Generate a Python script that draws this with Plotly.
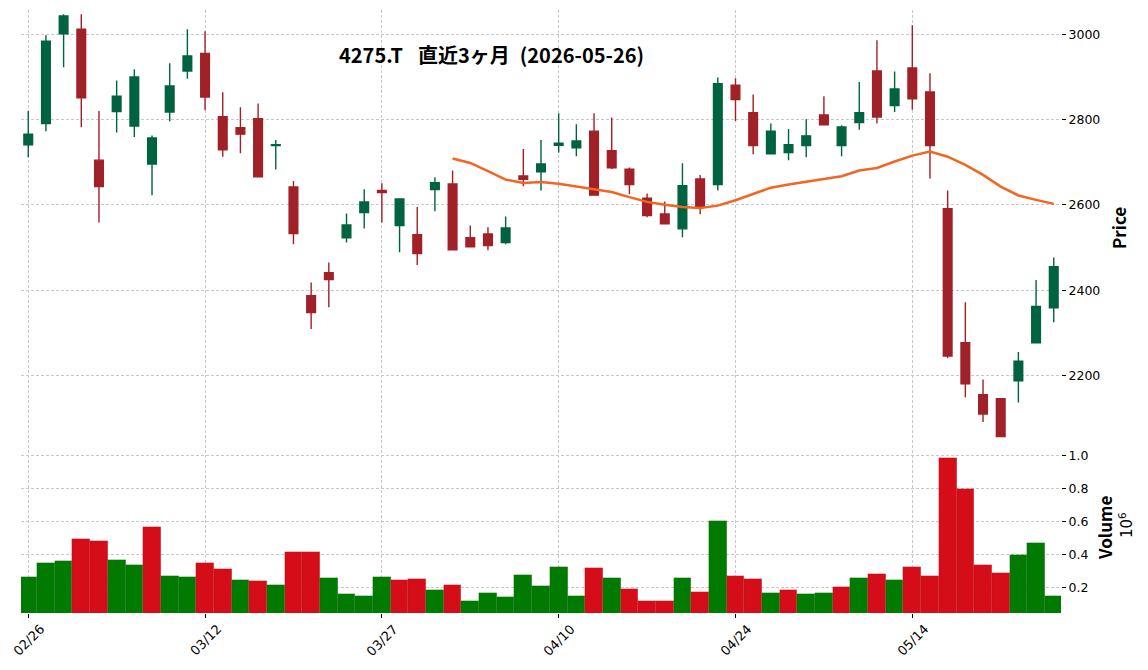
import plotly.graph_objects as go
import pandas as pd

dates = ["02/26", "02/27", "03/02", "03/03", "03/04", "03/05", "03/06", "03/09", "03/10", "03/11",
         "03/12", "03/13", "03/16", "03/17", "03/18", "03/19", "03/23", "03/24", "03/25", "03/26",
         "03/27", "03/30", "03/31", "04/01", "04/02", "04/03", "04/06", "04/07", "04/08", "04/09",
         "04/10", "04/13", "04/14", "04/15", "04/16", "04/17", "04/20", "04/21", "04/22", "04/23",
         "04/24", "04/27", "04/28", "04/30", "05/01", "05/07", "05/08", "05/11", "05/12", "05/13",
         "05/14", "05/15", "05/18", "05/19", "05/20", "05/21", "05/22", "05/25", "05/26"]

opens = [2741, 2791, 3001, 3012, 2705, 2819, 2785, 2696, 2818, 2914,
         2955, 2807, 2781, 2802, 2739, 2642, 2387, 2441, 2523, 2582,
         2634, 2552, 2530, 2636, 2649, 2523, 2532, 2512, 2668, 2678,
         2740, 2734, 2773, 2727, 2684, 2616, 2579, 2544, 2661, 2648,
         2881, 2816, 2720, 2723, 2739, 2811, 2739, 2793, 2914, 2833,
         2921, 2865, 2591, 2277, 2155, 2146, 2188, 2277, 2359]
highs = [2820, 2998, 3047, 3047, 2820, 2892, 2918, 2763, 2932, 3012,
         3007, 2864, 2829, 2838, 2752, 2656, 2418, 2465, 2580, 2637,
         2651, 2615, 2595, 2665, 2681, 2552, 2548, 2573, 2731, 2752,
         2815, 2789, 2815, 2805, 2688, 2627, 2608, 2698, 2670, 2899,
         2897, 2859, 2791, 2778, 2801, 2855, 2787, 2888, 2986, 2913,
         3021, 2909, 2634, 2372, 2191, 2146, 2255, 2424, 2477]
lows = [2712, 2773, 2923, 2782, 2559, 2770, 2759, 2623, 2796, 2896,
        2822, 2713, 2721, 2665, 2683, 2508, 2309, 2360, 2512, 2545,
        2559, 2489, 2459, 2585, 2495, 2501, 2494, 2508, 2644, 2634,
        2723, 2714, 2622, 2684, 2625, 2571, 2555, 2524, 2578, 2634,
        2797, 2719, 2718, 2705, 2712, 2787, 2714, 2776, 2791, 2818,
        2823, 2662, 2241, 2149, 2091, 2056, 2137, 2276, 2325]
closes = [2766, 2984, 3043, 2851, 2643, 2855, 2900, 2757, 2879, 2949,
          2853, 2729, 2766, 2666, 2741, 2533, 2348, 2425, 2553, 2607,
          2629, 2614, 2486, 2652, 2495, 2502, 2505, 2546, 2660, 2696,
          2745, 2750, 2623, 2687, 2648, 2575, 2556, 2645, 2596, 2884,
          2847, 2739, 2773, 2741, 2762, 2788, 2783, 2816, 2806, 2872,
          2849, 2739, 2246, 2181, 2110, 2057, 2234, 2362, 2455]
volumes = [263000, 347000, 360000, 493000, 481000, 366000, 335000, 566000, 269000, 263000,
           347000, 311000, 244000, 238000, 214000, 414000, 414000, 257000, 160000, 147000,
           263000, 244000, 251000, 184000, 214000, 117000, 166000, 141000, 275000, 208000,
           323000, 147000, 317000, 257000, 190000, 117000, 117000, 257000, 172000, 602000,
           269000, 251000, 166000, 184000, 160000, 166000, 202000, 257000, 281000, 244000,
           323000, 269000, 984000, 796000, 335000, 287000, 396000, 469000, 147000]

price_ticks = [2200, 2400, 2600, 2800, 3000]
vol_ticks = [0.2, 0.4, 0.6, 0.8, 1.0]
tick_idx = [0, 10, 20, 30, 40, 50]

UP, DOWN = "#006340", "#a02128"
VUP, VDOWN = "#007a00", "#d50d18"
MA_COLOR = "#f26522"
GRID = "#c8c8c8"

x = list(range(len(dates)))
ma25 = pd.Series(closes).rolling(25).mean()

vcolors = []
for i in range(len(closes)):
    prev = closes[i - 1] if i > 0 else opens[i]
    vcolors.append(VUP if closes[i] >= prev else VDOWN)

fig = go.Figure()
fig.add_trace(go.Candlestick(
    x=x, open=opens, high=highs, low=lows, close=closes,
    increasing=dict(line=dict(color=UP, width=1.4), fillcolor=UP),
    decreasing=dict(line=dict(color=DOWN, width=1.4), fillcolor=DOWN),
    whiskerwidth=0, xaxis="x", yaxis="y", showlegend=False))
fig.add_trace(go.Scatter(
    x=x, y=ma25, mode="lines", line=dict(color=MA_COLOR, width=2.5),
    xaxis="x", yaxis="y", showlegend=False))
fig.add_trace(go.Bar(
    x=x, y=[v / 1e6 for v in volumes],
    marker=dict(color=vcolors, line=dict(width=0.5, color="rgba(0,0,0,0.12)")),
    width=1.0, xaxis="x2", yaxis="y2", showlegend=False))

tick_font = dict(family="DejaVu Sans", size=12.5, color="black")
date_font = dict(family="DejaVu Sans", size=13, color="black")
xcommon = dict(range=[-0.41, 58.41], showgrid=True, gridcolor=GRID, griddash="3px,2px",
               gridwidth=0.8, tickvals=tick_idx, zeroline=False, showline=False)
vol_split = 0.2869

fig.update_layout(
    width=1148, height=670,
    margin=dict(l=21, r=87, t=10, b=57),
    paper_bgcolor="white", plot_bgcolor="white",
    bargap=0,
    xaxis=dict(**xcommon, domain=[0, 1], anchor="y", showticklabels=False, ticks="",
               rangeslider=dict(visible=False)),
    xaxis2=dict(**xcommon, domain=[0, 1], anchor="y2", matches="x", showticklabels=False,
                ticks="outside", ticklen=4, tickcolor="black", tickwidth=1),
    yaxis=dict(domain=[vol_split, 1], range=[2049, 3057], side="right",
               tickvals=price_ticks, ticks="outside", ticklen=4, tickcolor="black",
               tickwidth=1, tickfont=tick_font, showgrid=True, gridcolor=GRID,
               griddash="3px,2px", gridwidth=0.8, zeroline=False, showline=False),
    yaxis2=dict(domain=[0, vol_split], range=[0.046, 1.096], side="right",
                tickvals=vol_ticks, tickformat=".1f", ticks="outside", ticklen=4,
                tickcolor="black", tickwidth=1, tickfont=tick_font, showgrid=True,
                gridcolor=GRID, griddash="3px,2px", gridwidth=0.8, zeroline=False,
                showline=False),
)

# rotated date labels, centred under each tick (matplotlib style)
for i in tick_idx:
    fig.add_annotation(text=dates[i], xref="x2", yref="paper", x=i, y=(613 - 640) / 603,
                       xanchor="center", yanchor="middle", textangle=-45, showarrow=False,
                       font=date_font)

label_font = dict(family="Noto Sans CJK JP", size=17, color="black", weight="bold")
fig.add_annotation(text="4275.T\u2002\u2005直近3ヶ月\u2002(2026-05-26)", xref="paper", yref="paper",
                   x=(491 - 21) / 1040, y=(613 - 55) / 603, xanchor="center", yanchor="middle",
                   showarrow=False,
                   font=dict(family="Noto Sans CJK JP", size=20, color="black", weight="bold"))
fig.add_annotation(text="Price", xref="paper", yref="paper",
                   x=(1118 - 21) / 1040, y=(613 - 228) / 603, xanchor="center", yanchor="middle",
                   textangle=-90, showarrow=False, font=label_font)
fig.add_annotation(text="Volume", xref="paper", yref="paper",
                   x=(1104 - 21) / 1040, y=(613 - 528) / 603, xanchor="center", yanchor="middle",
                   textangle=-90, showarrow=False, font=label_font)
fig.add_annotation(text="10<sup>6</sup>", xref="paper", yref="paper",
                   x=(1126 - 21) / 1040, y=(613 - 525) / 603, xanchor="center", yanchor="middle",
                   textangle=-90, showarrow=False,
                   font=dict(family="DejaVu Sans", size=15, color="black"))

fig.write_html("out.html")
